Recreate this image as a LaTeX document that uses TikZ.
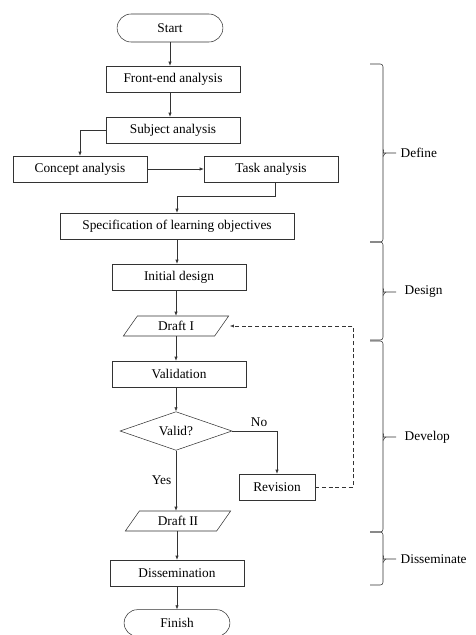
\documentclass[tikz,border=0pt]{standalone}
\usepackage{fontspec}
\setmainfont{Liberation Serif}
\usetikzlibrary{arrows.meta,positioning,shapes.geometric,shapes.misc}

\begin{document}
\begin{tikzpicture}[
      x=0.75pt, y=-0.75pt,
      every node/.style={font=\fontsize{10}{12}\selectfont},
      procbox/.style={
        rectangle, draw=black!80, inner xsep=3pt,
        minimum width=100.5pt, minimum height=19.5pt,
        align=center
      },
      termbox/.style={
        rounded rectangle, draw=black!80,
        minimum width=86pt, minimum height=21pt
      },
      iobox/.style={
        trapezium, draw=black!80, trapezium stretches body,
        trapezium left angle=41, trapezium right angle=139,
        minimum width=79pt, minimum height=15pt, inner ysep=1pt
      },
      decbox/.style={
        diamond, draw=black!80, aspect=2.9, inner sep=0pt,
        minimum width=84pt, minimum height=29pt
      },
      arr/.style={-{Latex[length=3pt,width=2.4pt]}, draw=black!80},
      darr/.style={-{Latex[length=3pt,width=2.4pt]}, draw=black!80, densely dashed},
      bracebr/.style={draw=black!80, rounded corners=2pt}
    ]
    \useasboundingbox (0,0) rectangle (475,635);

    % ===== Define stage =====
    \node[termbox] (start) at (170, 28) {Start};
    \node[procbox] (fea) at (173, 79) {Front-end analysis};
    \node[procbox] (sub) at (173, 130) {Subject analysis};
    \node[procbox] (con) at (80, 169) {Concept analysis};
    \node[procbox] (task) at (271, 169) {Task analysis};
    \node[procbox, minimum width=175.5pt] (spec) at (177, 226)
      {Specification of learning objectives};

    % ===== Design and develop stages =====
    \node[procbox] (init) at (179, 277) {Initial design};
    \node[iobox] (dr1) at (176, 326) {Draft I};
    \node[procbox] (valn) at (179, 374) {Validation};
    \node[decbox] (dec) at (176, 431) {Valid?};
    \node[procbox, minimum width=57pt] (rev) at (277, 487) {Revision};
    \node[iobox] (dr2) at (178, 521) {Draft II};

    % ===== Disseminate stage =====
    \node[procbox] (dis) at (177, 573) {Dissemination};
    \node[termbox, minimum height=20pt] (fin) at (177, 623) {Finish};

    % ===== Arrows =====
    \draw[arr] (start.south) -- (start.south |- fea.north);
    \draw[arr] ([xshift=-2.25pt]fea.south) -- ([xshift=-2.25pt]fea.south |- sub.north);
    \draw[arr] (sub.west) -| (con.north);
    \draw[arr] (con) -- (task);
    \draw[arr] ([xshift=3pt]task.south) -- ++(0,14) -| (spec.north);
    \draw[arr] (spec.south) -- (spec.south |- init.north);
    \draw[arr] (dr1.south |- init.south) -- (dr1.north);
    \draw[arr] (dr1.south) -- (dr1.south |- valn.north);
    \draw[arr] (dec.north |- valn.south) -- (dec.north);
    \draw[arr] (dec.east) -| (rev.north)
      node[pos=0.3, above] {No};
    \draw[arr] (dec.south) -- (dec.south |- dr2.north)
      node[midway, left] {Yes};
    \draw[darr] (rev.east) -- ++(38, 0) |- ([xshift=6pt]dr1.east);
    \draw[arr] (dis.north |- dr2.south) -- (dis.north);
    \draw[arr] (dis.south) -- (fin.north);

    % ===== Stage braces =====
    \draw[bracebr] (370, 64) -- (383, 64) -- (383, 242) -- (370, 242);
    \draw[bracebr] (383, 150) to[out=90, in=180] (386, 153) -- (396, 153)
      node[right] {Define};
    \draw[bracebr] (383, 156) to[out=-90, in=180] (386, 153);

    \draw[bracebr] (370, 242) -- (383, 242) -- (383, 340) -- (370, 340);
    \draw[bracebr] (383, 289) to[out=90, in=180] (386, 292) -- (396, 292)
      node[right, xshift=3pt] {Design};
    \draw[bracebr] (383, 295) to[out=-90, in=180] (386, 292);

    \draw[bracebr] (370, 341) -- (383, 341) -- (383, 532) -- (370, 532);
    \draw[bracebr] (383, 434) to[out=90, in=180] (386, 437) -- (396, 437)
      node[right, xshift=3pt] {Develop};
    \draw[bracebr] (383, 440) to[out=-90, in=180] (386, 437);

    \draw[bracebr] (370, 532) -- (383, 532) -- (383, 585) -- (370, 585);
    \draw[bracebr] (383, 556) to[out=90, in=180] (386, 559) -- (396, 559)
      node[right] {Disseminate};
    \draw[bracebr] (383, 562) to[out=-90, in=180] (386, 559);
  \end{tikzpicture}
\end{document}
